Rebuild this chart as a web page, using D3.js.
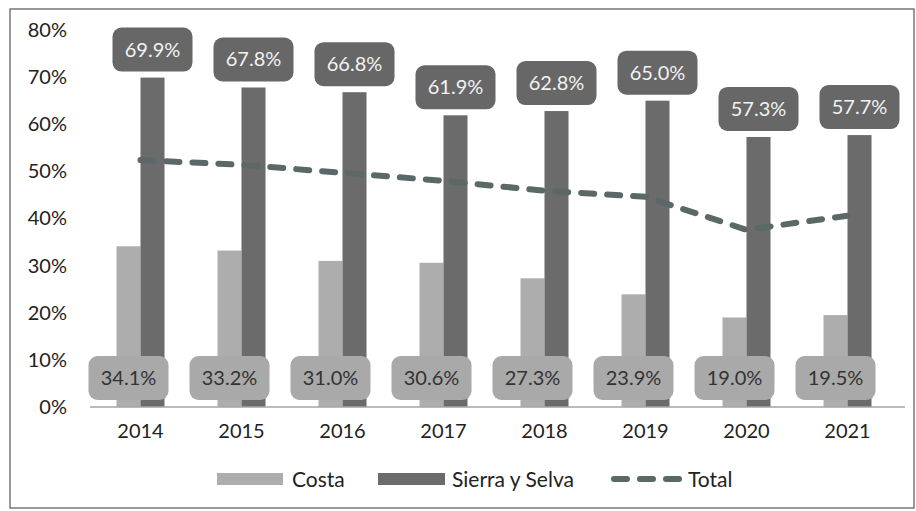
<!DOCTYPE html>
<html>
<head>
<meta charset="utf-8">
<script src="https://cdn.jsdelivr.net/npm/d3@7"></script>
<style>
  body { margin: 0; background: #fff; }
  text { font-family: Lato, "Open Sans", sans-serif; }
</style>
</head>
<body>
<script>
// data
const years = ["2014", "2015", "2016", "2017", "2018", "2019", "2020", "2021"];
const costa = [34.1, 33.2, 31.0, 30.6, 27.3, 23.9, 19.0, 19.5];
const sierra = [69.9, 67.8, 66.8, 61.9, 62.8, 65.0, 57.3, 57.7];
const total = [52.4, 51.4, 49.7, 48.0, 45.9, 44.6, 37.6, 40.6];
const yTicks = [0, 10, 20, 30, 40, 50, 60, 70, 80];

let width = 916;
let height = 511;

const colors = {
    costa: "#adadad",
    sierra: "#6b6b6b",
    line: "#5b6868"
};

const svg = d3.select("body")
    .append("svg")
    .attr("width", width)
    .attr("height", height);

// outer frame
svg.append("rect")
    .attr("x", 10)
    .attr("y", 9)
    .attr("width", 904)
    .attr("height", 499)
    .attr("fill", "none")
    .attr("stroke", "#555")
    .attr("stroke-width", 1.2);

// scales
let xScale = d3.scaleBand()
    .domain(years)
    .range([90, 898])
    .paddingInner(0)
    .paddingOuter(0);

let barW = 24;

let yScale = d3.scaleLinear()
    .domain([0, 80])
    .range([407, 30]);

// y axis labels
const yAxis = svg.append("g")
    .attr("transform", "translate(67,0)")
    .call(d3.axisLeft(yScale).tickValues(yTicks).tickSize(0).tickPadding(0).tickFormat(d => d + "%"));
yAxis.select(".domain").remove();
yAxis.selectAll("text")
    .style("font-family", "Lato, sans-serif")
    .style("font-size", "20px")
    .attr("fill", "#222");

// x axis labels
const xAxis = svg.append("g")
    .attr("transform", "translate(0,407)")
    .call(d3.axisBottom(xScale).tickSize(0).tickPadding(17));
xAxis.select(".domain").remove();
xAxis.selectAll("text")
    .style("font-family", "Lato, sans-serif")
    .style("font-size", "20px")
    .attr("fill", "#222");

const cx = d => xScale(d) + xScale.bandwidth() / 2;

// bars
svg.selectAll("rect.costa")
    .data(years)
    .enter()
    .append("rect")
    .attr("class", "costa")
    .attr("x", d => cx(d) - barW)
    .attr("y", (d, i) => yScale(costa[i]))
    .attr("width", barW)
    .attr("height", (d, i) => yScale(0) - yScale(costa[i]))
    .attr("fill", colors.costa);

svg.selectAll("rect.sierra")
    .data(years)
    .enter()
    .append("rect")
    .attr("class", "sierra")
    .attr("x", d => cx(d))
    .attr("y", (d, i) => yScale(sierra[i]))
    .attr("width", barW)
    .attr("height", (d, i) => yScale(0) - yScale(sierra[i]))
    .attr("fill", colors.sierra);

// baseline
svg.append("line")
    .attr("x1", 90)
    .attr("x2", 905)
    .attr("y1", yScale(0))
    .attr("y2", yScale(0))
    .attr("stroke", "#a5a5a5")
    .attr("stroke-width", 1.5);

// total dashed line
const line = d3.line()
    .x((d, i) => cx(years[i]))
    .y(d => yScale(d));

svg.append("path")
    .datum(total)
    .attr("d", line)
    .attr("fill", "none")
    .attr("stroke", colors.line)
    .attr("stroke-width", 6)
    .attr("stroke-linecap", "round")
    .attr("stroke-dasharray", "13,13");

// labels for Sierra y Selva (above the bars)
let boxW = 80, boxH = 44;
const sLab = svg.selectAll("g.slab")
    .data(years)
    .enter()
    .append("g")
    .attr("class", "slab")
    .attr("transform", (d, i) => `translate(${cx(d) + barW / 2},${yScale(sierra[i]) - 6 - boxH / 2})`);
sLab.append("rect")
    .attr("x", -boxW / 2)
    .attr("y", -boxH / 2)
    .attr("width", boxW)
    .attr("height", boxH)
    .attr("rx", 9)
    .attr("fill", "#676767");
sLab.append("text")
    .attr("text-anchor", "middle")
    .attr("dy", "0.35em")
    .style("font-size", "20px")
    .attr("fill", "#f2f2f2")
    .text((d, i) => sierra[i].toFixed(1) + "%");

// labels for Costa (near the base)
const cLab = svg.selectAll("g.clab")
    .data(years)
    .enter()
    .append("g")
    .attr("class", "clab")
    .attr("transform", d => `translate(${cx(d) - barW / 2},378)`);
cLab.append("rect")
    .attr("x", -boxW / 2)
    .attr("y", -boxH / 2)
    .attr("width", boxW)
    .attr("height", boxH)
    .attr("rx", 9)
    .attr("fill", "#a9a9a9");
cLab.append("text")
    .attr("text-anchor", "middle")
    .attr("dy", "0.35em")
    .style("font-size", "20px")
    .attr("fill", "#333")
    .text((d, i) => costa[i].toFixed(1) + "%");

// legend
const legend = svg.append("g");
legend.append("rect")
    .attr("x", 217).attr("y", 473)
    .attr("width", 66).attr("height", 12)
    .attr("fill", colors.costa);
legend.append("text")
    .attr("x", 292).attr("y", 487)
    .style("font-size", "21px")
    .attr("fill", "#222")
    .text("Costa");
legend.append("rect")
    .attr("x", 378).attr("y", 473)
    .attr("width", 67).attr("height", 12)
    .attr("fill", colors.sierra);
legend.append("text")
    .attr("x", 452).attr("y", 487)
    .style("font-size", "21px")
    .attr("fill", "#222")
    .text("Sierra y Selva");
legend.append("line")
    .attr("x1", 614).attr("x2", 680)
    .attr("y1", 479).attr("y2", 479)
    .attr("stroke", colors.line)
    .attr("stroke-width", 6)
    .attr("stroke-linecap", "round")
    .attr("stroke-dasharray", "13,13");
legend.append("text")
    .attr("x", 688).attr("y", 487)
    .style("font-size", "21px")
    .attr("fill", "#222")
    .text("Total");
</script>
</body>
</html>
